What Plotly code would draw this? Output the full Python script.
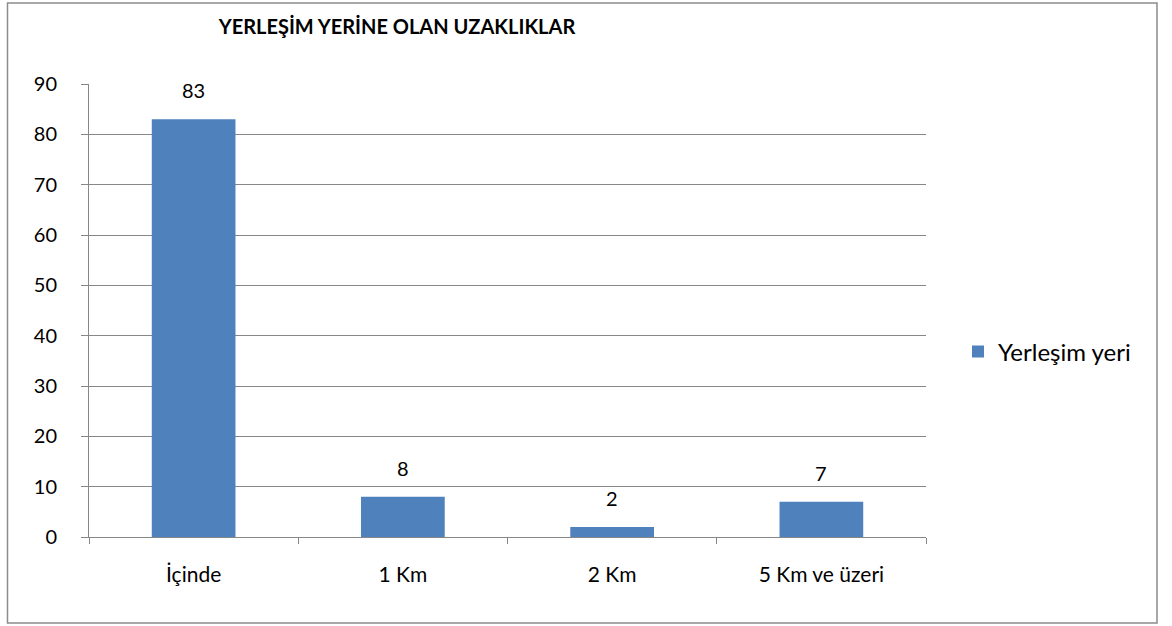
import plotly.graph_objects as go

categories = ["İçinde", "1 Km", "2 Km", "5 Km ve üzeri"]
values = [83, 8, 2, 7]
series_name = "Yerleşim yeri"
title_text = "YERLEŞİM YERİNE OLAN UZAKLIKLAR"
y_ticks = [0, 10, 20, 30, 40, 50, 60, 70, 80, 90]

W, H = 1172, 626
L, R, T, B = 89, 246, 84, 89
pw, ph = W - L - R, H - T - B

FONT = "Lato"
grid = "#878787"

fig = go.Figure()
fig.add_trace(go.Bar(
    x=categories, y=values, name=series_name,
    marker=dict(color="#4F81BD", line=dict(width=0)),
    width=0.4, showlegend=True,
))

for c, v in zip(categories, values):
    fig.add_annotation(x=c, y=v, text=str(v), showarrow=False,
                       yanchor="bottom", yshift=15,
                       font=dict(family=FONT, size=20, color="black"))

# outer chart border
fig.add_shape(type="rect", xref="paper", yref="paper",
              x0=(7.5 - L) / pw, x1=(1157 - L) / pw,
              y0=(H - B - 623) / ph, y1=(H - B - 3) / ph,
              line=dict(color="#8c8c8c", width=1.5), layer="below")

fig.update_layout(
    width=W, height=H,
    margin=dict(l=L, r=R, t=T, b=B),
    paper_bgcolor="white", plot_bgcolor="white",
    font=dict(family=FONT, size=20, color="black"),
    title=dict(text="<b>" + title_text + "</b>", x=(397 - L) / pw, xref="paper",
               xanchor="center", y=1 - 27 / H, yref="container", yanchor="middle",
               font=dict(family=FONT, size=20, color="black")),
    legend=dict(x=(958 - L) / pw, xanchor="left", y=(H - B - 352) / ph, yanchor="middle",
                font=dict(family=FONT, size=24, color="black"),
                bgcolor="rgba(0,0,0,0)", itemwidth=30),
    bargap=0.6,
)
fig.update_xaxes(type="category", showgrid=False, showline=True, linecolor=grid, linewidth=1,
                 ticks="outside", tickson="boundaries", ticklen=6, tickcolor=grid,
                 ticklabelstandoff=19, tickfont=dict(family=FONT, size=21))
fig.update_yaxes(range=[0, 90], tickvals=y_ticks, showgrid=True, gridcolor=grid, gridwidth=1,
                 showline=True, linecolor=grid, linewidth=1, zeroline=False,
                 ticks="outside", ticklen=7, tickcolor=grid,
                 ticklabelstandoff=20, tickfont=dict(family=FONT, size=20))

fig.write_html("out.html", config={"displayModeBar": False},
               post_script="document.body.style.margin='0';document.body.style.overflow='hidden';")
